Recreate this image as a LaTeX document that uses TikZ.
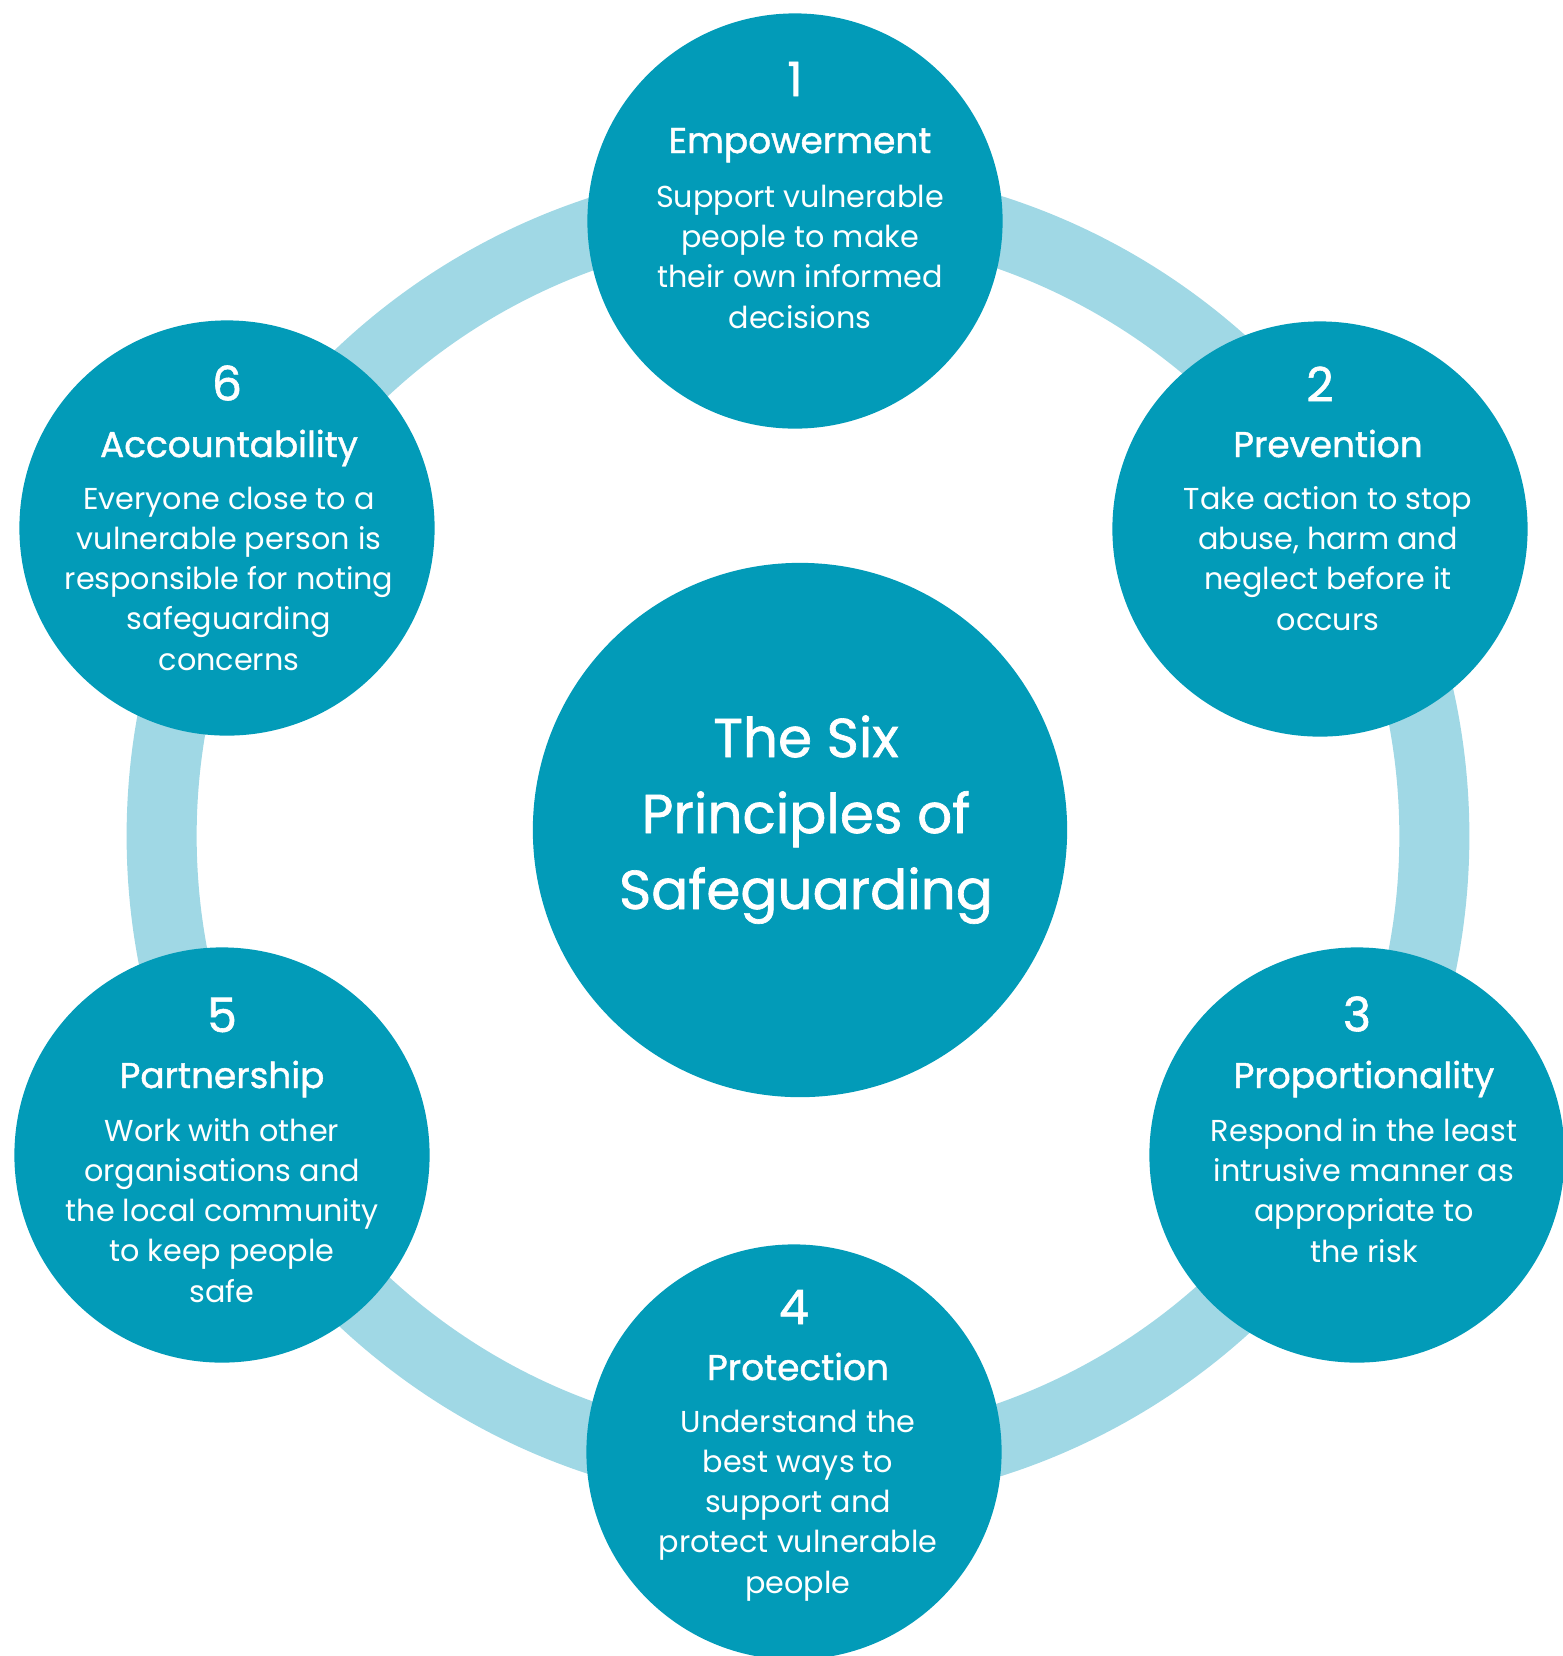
\documentclass[tikz,border=0pt]{standalone}
\usepackage{fontspec}
\setmainfont{Poppins}
\newfontfamily\headfont{Poppins}[FakeBold=1.2]
\usetikzlibrary{calc}

\definecolor{sgteal}{RGB}{2,155,184}
\definecolor{sgring}{RGB}{160,216,229}

\begin{document}
\begin{tikzpicture}[x=0.01cm,y=-0.01cm,
  principle/.style={circle,fill=sgteal,minimum size=4.15cm,inner sep=0pt},
  hub/.style={circle,fill=sgteal,minimum size=5.34cm,inner sep=0pt},
  num/.style={text=white,font=\headfont\fontsize{13.5}{16}\selectfont,inner sep=0pt},
  head/.style={text=white,font=\headfont\fontsize{10.2}{12}\selectfont,inner sep=0pt,anchor=base},
  blurb/.style={text=white,font=\fontsize{8.6}{11.4}\selectfont,align=center,inner sep=0pt,anchor=base},
  ring/.style={draw=sgring,line width=0.70cm}]
\useasboundingbox (0,0) rectangle (1562,1656);
\coordinate (o) at (798,836);
\draw[ring] (o) circle[radius=6.36cm];
\node[hub] (hub) at (800,830) {};
% base of a many-line node = base of its last line
\node[text=white,font=\headfont\fontsize{15.6}{21.6}\selectfont,align=center,inner sep=0pt,anchor=base] (hubtext) at (806,909) {The Six\\Principles of\\Safeguarding};
	\begin{scope}[shift={(795,221)}]
	\node[principle] (p1) at (0,0) {};
	\node[num] (n1) at (0,-142) {1};
	\node[head] (t1) at (5,-68) {Empowerment};
	\node[blurb] (b1) at (5,107) {Support vulnerable\\people to make\\their own informed\\decisions};
	\end{scope}
	\begin{scope}[shift={(1320,529)}]
	\node[principle] (p2) at (0,0) {};
	\node[num] (n2) at (0,-145) {2};
	\node[head] (t2) at (8,-72) {Prevention};
	\node[blurb] (b2) at (8,101) {Take action to stop\\abuse, harm and\\neglect before it\\occurs};
	\end{scope}
	\begin{scope}[shift={(1357,1155)}]
	\node[principle] (p3) at (0,0) {};
	\node[num] (n3) at (0,-141) {3};
	\node[head] (t3) at (7,-67) {Proportionality};
	\node[blurb] (b3) at (7,107) {Respond in the least\\intrusive manner as\\appropriate to\\the risk};
	\end{scope}
	\begin{scope}[shift={(794,1452)}]
	\node[principle] (p4) at (0,0) {};
	\node[num] (n4) at (0,-145) {4};
	\node[head] (t4) at (4,-72) {Protection};
	\node[blurb] (b4) at (4,141) {Understand the\\best ways to\\support and\\protect vulnerable\\people};
	\end{scope}
	\begin{scope}[shift={(222,1155)}]
	\node[principle] (p5) at (0,0) {};
	\node[num] (n5) at (0,-140) {5};
	\node[head] (t5) at (0,-67) {Partnership};
	\node[blurb] (b5) at (0,147) {Work with other\\organisations and\\the local community\\to keep people\\safe};
	\end{scope}
	\begin{scope}[shift={(227,528)}]
	\node[principle] (p6) at (0,0) {};
	\node[num] (n6) at (0,-145) {6};
	\node[head] (t6) at (2,-71) {Accountability};
	\node[blurb] (b6) at (2,142) {Everyone close to a\\vulnerable person is\\responsible for noting\\safeguarding\\concerns};
	\end{scope}
\end{tikzpicture}
\end{document}
